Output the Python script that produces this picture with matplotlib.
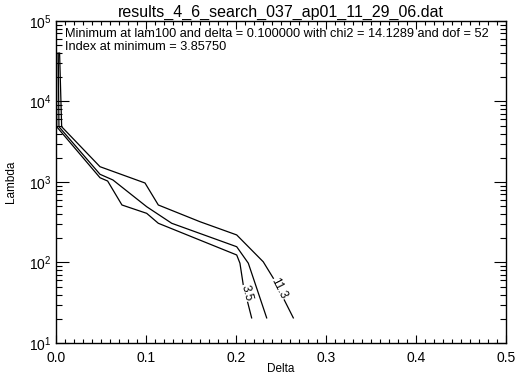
"""Chi2 contours in the delta / lambda plane (IDL-style plot)."""

import matplotlib

matplotlib.use("Agg")
import matplotlib.pyplot as plt  # noqa: E402
import numpy as np  # noqa: E402
from matplotlib.ticker import LogLocator, MultipleLocator  # noqa: E402

plt.rcParams["font.family"] = ["Liberation Sans", "DejaVu Sans"]

TITLE = "results_4_6_search_037_ap01_11_29_06.dat"
NOTE_LINES = [
    "Minimum at lam100 and delta = 0.100000 with chi2 = 14.1289 and dof = 52",
    "Index at minimum = 3.85750",
]

# contour 3.5 (inner)
delta_a = [0.0008, 0.0008, 0.0489, 0.0574, 0.0733, 0.1008, 0.1137, 0.2008, 0.2044, 0.2081, 0.2174]
lam_a = [40000, 4860, 1130, 1028, 518, 408, 307, 124, 98, 52.5, 20.5]
# middle contour (no label)
delta_b = [0.0025, 0.0033, 0.0489, 0.0633, 0.1008, 0.1286, 0.2008, 0.2137, 0.2341]
lam_b = [40000, 4860, 1247, 1059, 493, 307, 157, 98, 20.5]
# contour 11.3 (outer)
delta_c = [0.0040, 0.0063, 0.0489, 0.0989, 0.1137, 0.1600, 0.2008, 0.2303, 0.2414, 0.2637]
lam_c = [40000, 4860, 1549, 972, 518, 321, 220, 102, 64, 20.5]

labels = ["3.5", "11.3"]
label_delta = [0.2119, 0.2478]
label_lam = [41.8, 46.9]
label_rot = [-75, -63]

fig = plt.figure(figsize=(5.15, 3.77), dpi=100)
ax = fig.add_axes([0.1087, 0.0902, 0.8738, 0.8541])

for d, lam in [(delta_a, lam_a), (delta_b, lam_b), (delta_c, lam_c)]:
    ax.plot(d, lam, color="black", linewidth=0.9)

for txt, d, lam, rot in zip(labels, label_delta, label_lam, label_rot):
    ax.text(d, lam, txt, rotation=rot, rotation_mode="anchor",
            ha="center", va="center", fontsize=8.5,
            bbox=dict(facecolor="white", edgecolor="none", pad=0.3))

ax.set_yscale("log")
ax.set_xlim(0, 0.5)
ax.set_ylim(10, 1e5)
ax.xaxis.set_major_locator(MultipleLocator(0.1))
ax.xaxis.set_minor_locator(MultipleLocator(0.01))
ax.xaxis.set_major_formatter(plt.FuncFormatter(lambda v, p: f"{v:.1f}"))
ax.yaxis.set_minor_locator(LogLocator(base=10, subs=np.arange(2, 10)))

ax.tick_params(which="both", direction="in", top=True, right=True,
               labelsize=10, width=0.8)
ax.tick_params(axis="x", which="major", length=6, pad=6)
ax.tick_params(axis="x", which="minor", length=3)
ax.tick_params(axis="y", which="major", length=9, pad=3)
ax.tick_params(axis="y", which="minor", length=4.5)
for sp in ax.spines.values():
    sp.set_linewidth(1.0)

ax.set_xlabel("Delta", fontsize=8.5)
ax.xaxis.set_label_coords(0.5, -0.062)
ax.set_ylabel("Lambda", fontsize=8.5, labelpad=9)
ax.set_title(TITLE, fontsize=11.5, pad=3)

ax.text(0.02, 0.978, "\n".join(NOTE_LINES), transform=ax.transAxes,
        ha="left", va="top", fontsize=9.2, linespacing=1.05)

fig.savefig("out.png", dpi=100, facecolor="white")
